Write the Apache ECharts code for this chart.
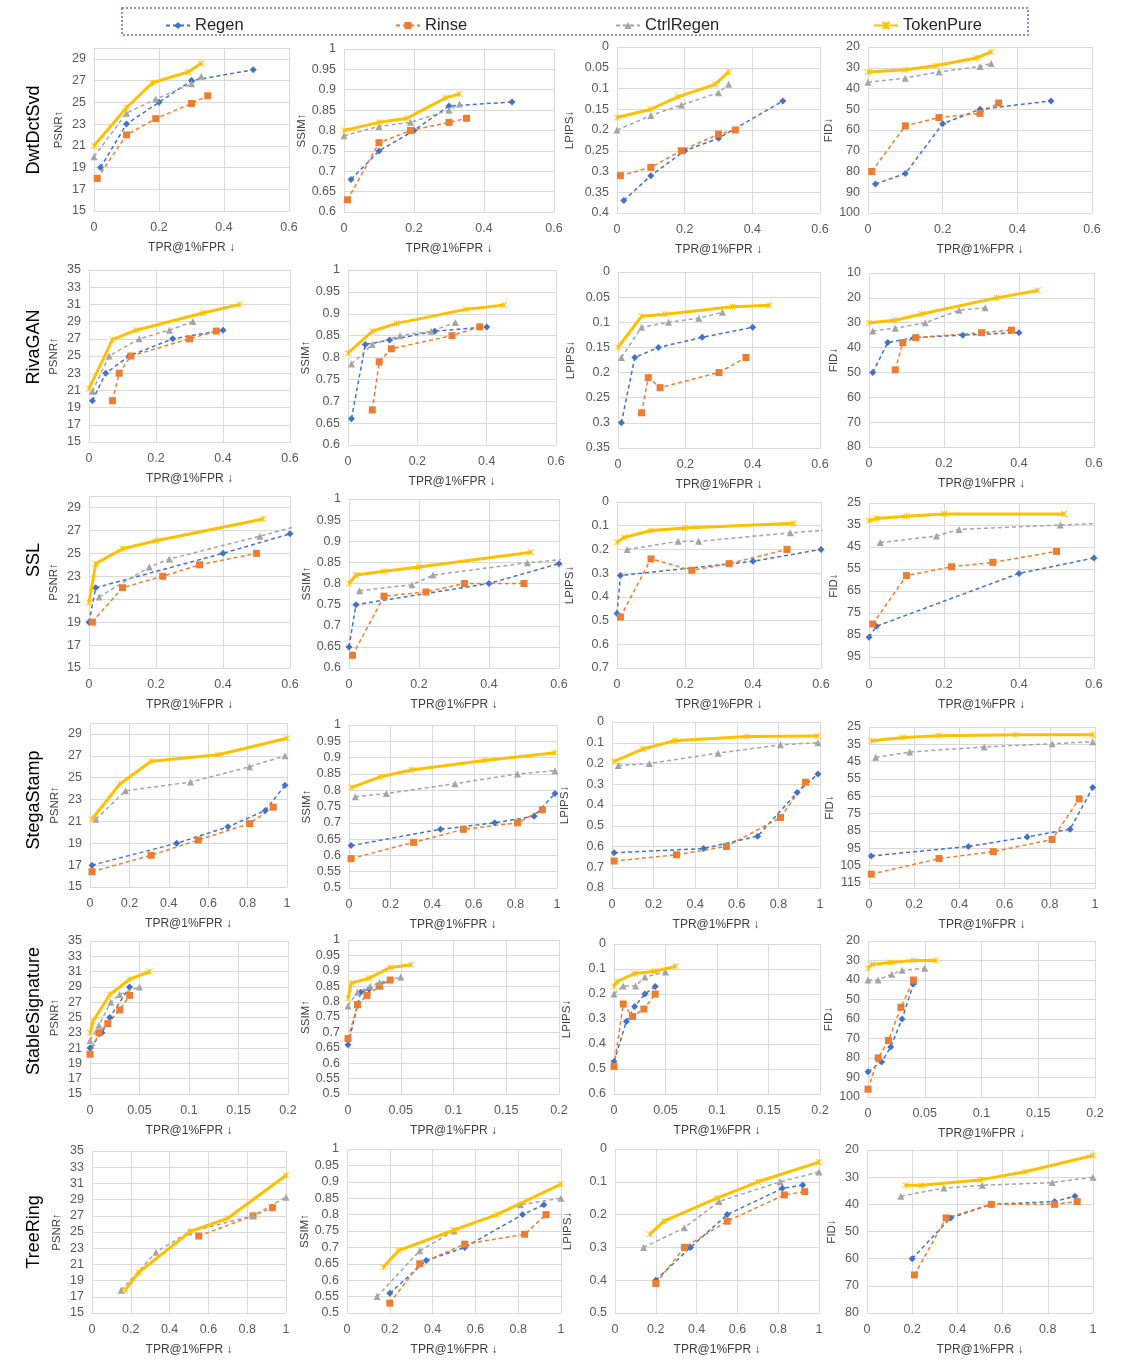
<!DOCTYPE html>
<html><head><meta charset="utf-8">
<script src="https://cdn.jsdelivr.net/npm/echarts@6/dist/echarts.min.js"></script>
<style>html,body{margin:0;padding:0;background:#fff}#c{width:1142px;height:1364px}</style>
</head><body><div id="c"></div>
<script>
const methods = ['Regen','Rinse','CtrlRegen','TokenPure'];
const watermarks = ['DwtDctSvd','RivaGAN','SSL','StegaStamp','StableSignature','TreeRing'];
const metricNames = ['PSNR↑','SSIM↑','LPIPS↓','FID↓'];
const xAxisName = 'TPR@1%FPR ↓';

// ---------- DwtDctSvd ----------
const DwtDctSvd_PSNR = {
  Regen:[[0.02,19],[0.1,23],[0.2,25],[0.3,27],[0.49,28]],
  Rinse:[[0.01,18],[0.1,22],[0.19,23.5],[0.3,24.9],[0.35,25.6]],
  CtrlRegen:[[0,20],[0.1,24],[0.19,25.3],[0.3,26.7],[0.33,27.4]],
  TokenPure:[[0,21],[0.1,24.5],[0.18,26.8],[0.29,27.8],[0.33,28.6]]};
const DwtDctSvd_SSIM = {
  Regen:[[0.02,0.68],[0.1,0.75],[0.2,0.80],[0.3,0.86],[0.48,0.87]],
  Rinse:[[0.01,0.63],[0.1,0.77],[0.19,0.80],[0.3,0.82],[0.35,0.83]],
  CtrlRegen:[[0,0.787],[0.1,0.81],[0.19,0.82],[0.3,0.85],[0.33,0.865]],
  TokenPure:[[0,0.80],[0.1,0.82],[0.18,0.83],[0.29,0.88],[0.33,0.89]]};
const DwtDctSvd_LPIPS = {
  Regen:[[0.02,0.37],[0.1,0.31],[0.2,0.25],[0.3,0.22],[0.49,0.13]],
  Rinse:[[0.01,0.31],[0.1,0.29],[0.19,0.25],[0.3,0.21],[0.35,0.2]],
  CtrlRegen:[[0,0.2],[0.1,0.165],[0.19,0.14],[0.3,0.11],[0.33,0.09]],
  TokenPure:[[0,0.17],[0.1,0.15],[0.18,0.12],[0.29,0.09],[0.33,0.06]]};
const DwtDctSvd_FID = {
  Regen:[[0.02,86],[0.1,81],[0.2,57],[0.3,50],[0.49,46]],
  Rinse:[[0.01,80],[0.1,58],[0.19,54],[0.3,52],[0.35,47]],
  CtrlRegen:[[0,37],[0.1,35],[0.19,32],[0.3,29.4],[0.33,28]],
  TokenPure:[[0,32],[0.1,31],[0.18,29],[0.29,25.3],[0.33,22.3]]};

// ---------- RivaGAN ----------
const RivaGAN_PSNR = {
  Regen:[[0.01,19.8],[0.05,23],[0.12,25],[0.25,27],[0.4,28]],
  Rinse:[[0.07,19.8],[0.09,23],[0.125,25],[0.3,27],[0.38,27.9]],
  CtrlRegen:[[0.01,20.9],[0.06,25],[0.15,27],[0.24,28],[0.31,29]],
  TokenPure:[[0,21.2],[0.07,26.9],[0.14,28],[0.34,30],[0.45,31]]};
const RivaGAN_SSIM = {
  Regen:[[0.01,0.66],[0.05,0.83],[0.12,0.84],[0.25,0.86],[0.4,0.87]],
  Rinse:[[0.07,0.68],[0.09,0.79],[0.125,0.82],[0.3,0.85],[0.38,0.87]],
  CtrlRegen:[[0.01,0.785],[0.07,0.83],[0.15,0.85],[0.24,0.86],[0.31,0.88]],
  TokenPure:[[0,0.81],[0.07,0.86],[0.14,0.878],[0.34,0.91],[0.45,0.92]]};
const RivaGAN_LPIPS = {
  Regen:[[0.01,0.3],[0.05,0.17],[0.12,0.15],[0.25,0.13],[0.4,0.11]],
  Rinse:[[0.07,0.28],[0.09,0.21],[0.125,0.23],[0.3,0.2],[0.38,0.17]],
  CtrlRegen:[[0.01,0.17],[0.07,0.11],[0.15,0.1],[0.24,0.092],[0.31,0.08]],
  TokenPure:[[0,0.15],[0.07,0.088],[0.14,0.084],[0.34,0.069],[0.45,0.066]]};
const RivaGAN_FID = {
  Regen:[[0.01,50],[0.05,38],[0.12,36],[0.25,35],[0.4,34]],
  Rinse:[[0.07,49],[0.09,38],[0.125,36],[0.3,34],[0.38,33]],
  CtrlRegen:[[0.01,33.3],[0.07,32.2],[0.15,30],[0.24,25],[0.31,24]],
  TokenPure:[[0,30],[0.07,29],[0.14,26.5],[0.34,20],[0.45,17]]};

// ---------- SSL ----------
const SSL_PSNR = {
  Regen:[[0,19],[0.02,22],[0.4,25],[0.6,26.7]],
  Rinse:[[0.01,19],[0.1,22],[0.22,23],[0.33,24],[0.5,25]],
  CtrlRegen:[[0.03,21.2],[0.18,23.8],[0.24,24.5],[0.51,26.5],[0.65,27.6]],
  TokenPure:[[0,20.7],[0.02,24.1],[0.1,25.4],[0.2,26.1],[0.52,28]]};
const SSL_SSIM = {
  Regen:[[0,0.65],[0.02,0.75],[0.4,0.8],[0.6,0.847]],
  Rinse:[[0.01,0.63],[0.1,0.77],[0.22,0.78],[0.33,0.8],[0.5,0.8]],
  CtrlRegen:[[0.03,0.783],[0.18,0.797],[0.24,0.82],[0.51,0.849],[0.65,0.86]],
  TokenPure:[[0,0.80],[0.02,0.82],[0.1,0.829],[0.2,0.839],[0.52,0.874]]};
const SSL_LPIPS = {
  Regen:[[0,0.47],[0.01,0.31],[0.4,0.25],[0.6,0.2]],
  Rinse:[[0.01,0.485],[0.1,0.24],[0.22,0.288],[0.33,0.26],[0.5,0.2]],
  CtrlRegen:[[0.03,0.2],[0.18,0.166],[0.24,0.166],[0.51,0.13],[0.65,0.115]],
  TokenPure:[[0,0.17],[0.02,0.15],[0.1,0.12],[0.2,0.11],[0.52,0.09]]};
const SSL_FID = {
  Regen:[[0,86],[0.02,81],[0.4,57],[0.6,50]],
  Rinse:[[0.01,80],[0.1,58],[0.22,54],[0.33,52],[0.5,47]],
  CtrlRegen:[[0.03,43],[0.18,40],[0.24,37],[0.51,35],[0.65,34]],
  TokenPure:[[0,33],[0.02,32],[0.1,31],[0.2,30],[0.52,30]]};

// ---------- StegaStamp ----------
const StegaStamp_PSNR = {
  Regen:[[0.01,17],[0.44,19],[0.7,20.5],[0.89,22],[0.99,24.3]],
  Rinse:[[0.01,16.4],[0.31,17.9],[0.55,19.3],[0.81,20.8],[0.93,22.3]],
  CtrlRegen:[[0.03,21.2],[0.18,23.8],[0.51,24.6],[0.81,26],[0.99,27]],
  TokenPure:[[0.01,21.2],[0.15,24.4],[0.31,26.5],[0.65,27.1],[1.0,28.6]]};
const StegaStamp_SSIM = {
  Regen:[[0.01,0.63],[0.44,0.68],[0.7,0.70],[0.89,0.72],[0.99,0.79]],
  Rinse:[[0.01,0.59],[0.31,0.64],[0.55,0.68],[0.81,0.70],[0.93,0.74]],
  CtrlRegen:[[0.03,0.78],[0.18,0.79],[0.51,0.82],[0.81,0.85],[0.99,0.86]],
  TokenPure:[[0.01,0.808],[0.15,0.841],[0.3,0.862],[0.65,0.891],[0.99,0.915]]};
const StegaStamp_LPIPS = {
  Regen:[[0.01,0.63],[0.44,0.61],[0.7,0.55],[0.89,0.34],[0.99,0.25]],
  Rinse:[[0.01,0.67],[0.31,0.64],[0.55,0.60],[0.81,0.46],[0.93,0.29]],
  CtrlRegen:[[0.03,0.21],[0.18,0.2],[0.51,0.15],[0.81,0.11],[0.99,0.1]],
  TokenPure:[[0.01,0.19],[0.15,0.13],[0.3,0.09],[0.65,0.07],[0.99,0.068]]};
const StegaStamp_FID = {
  Regen:[[0.01,99.5],[0.44,94],[0.7,88.5],[0.89,84],[0.99,60]],
  Rinse:[[0.01,110],[0.31,101],[0.55,97],[0.81,90],[0.93,66.5]],
  CtrlRegen:[[0.03,42.5],[0.18,39.5],[0.51,36.5],[0.81,34.7],[0.99,33.5]],
  TokenPure:[[0.01,33],[0.15,31],[0.31,30],[0.65,29.5],[0.99,29.5]]};

// ---------- StableSignature ----------
const StableSignature_PSNR = {
  Regen:[[0,21],[0.012,23],[0.02,25],[0.04,29]],
  Rinse:[[0,20.2],[0.009,23],[0.018,24.2],[0.03,26],[0.04,27.9]],
  CtrlRegen:[[0,22],[0.009,24],[0.021,27],[0.03,28],[0.05,29]],
  TokenPure:[[0,23],[0.003,24.5],[0.02,28],[0.04,30],[0.06,31]]};
const StableSignature_SSIM = {
  Regen:[[0,0.66],[0.012,0.83],[0.02,0.84],[0.04,0.87]],
  Rinse:[[0,0.68],[0.009,0.79],[0.018,0.82],[0.03,0.85],[0.04,0.87]],
  CtrlRegen:[[0,0.786],[0.009,0.83],[0.021,0.85],[0.03,0.862],[0.05,0.88]],
  TokenPure:[[0,0.81],[0.003,0.86],[0.02,0.876],[0.04,0.911],[0.06,0.92]]};
const StableSignature_LPIPS = {
  Regen:[[0,0.47],[0.012,0.31],[0.02,0.25],[0.03,0.2],[0.04,0.17]],
  Rinse:[[0,0.49],[0.009,0.24],[0.018,0.29],[0.029,0.26],[0.04,0.2]],
  CtrlRegen:[[0,0.2],[0.009,0.168],[0.021,0.168],[0.03,0.132],[0.05,0.112]],
  TokenPure:[[0,0.17],[0.003,0.15],[0.02,0.118],[0.04,0.109],[0.06,0.089]]};
const StableSignature_FID = {
  Regen:[[0,87],[0.012,82],[0.02,74.4],[0.03,60],[0.04,42]],
  Rinse:[[0,96],[0.009,80],[0.018,71],[0.029,54],[0.04,40]],
  CtrlRegen:[[0,40],[0.009,40],[0.021,37],[0.03,35],[0.05,34]],
  TokenPure:[[0,34],[0.003,32],[0.02,31],[0.04,30],[0.06,30]]};

// ---------- TreeRing ----------
const TreeRing_PSNR = {
  Regen:[],
  Rinse:[[0.55,24.5],[0.83,27],[0.93,28]],
  CtrlRegen:[[0.15,17.8],[0.33,22.5],[0.5,25],[0.83,27],[1.0,29.3]],
  TokenPure:[[0.17,17.8],[0.24,20],[0.51,25.1],[0.7,26.7],[1.0,32]]};
const TreeRing_SSIM = {
  Regen:[[0.2,0.56],[0.37,0.66],[0.55,0.70],[0.82,0.80],[0.92,0.83]],
  Rinse:[[0.2,0.53],[0.34,0.65],[0.55,0.71],[0.83,0.74],[0.93,0.80]],
  CtrlRegen:[[0.14,0.55],[0.34,0.69],[0.5,0.75],[0.81,0.83],[1.0,0.85]],
  TokenPure:[[0.17,0.64],[0.24,0.69],[0.5,0.753],[0.7,0.80],[1.0,0.893]]};
const TreeRing_LPIPS = {
  Regen:[[0.2,0.4],[0.37,0.3],[0.55,0.2],[0.82,0.12],[0.92,0.11]],
  Rinse:[[0.2,0.41],[0.34,0.3],[0.55,0.22],[0.83,0.14],[0.93,0.13]],
  CtrlRegen:[[0.14,0.3],[0.34,0.24],[0.51,0.16],[0.81,0.1],[1.0,0.07]],
  TokenPure:[[0.17,0.26],[0.24,0.22],[0.5,0.15],[0.7,0.1],[1.0,0.04]]};
const TreeRing_FID = {
  Regen:[[0.2,60],[0.37,45],[0.55,40],[0.83,39],[0.92,37]],
  Rinse:[[0.21,66],[0.35,45],[0.55,40],[0.83,40],[0.93,39]],
  CtrlRegen:[[0.15,37],[0.34,34],[0.51,33],[0.82,32],[1.0,30]],
  TokenPure:[[0.17,33],[0.24,33],[0.5,31],[0.7,28],[1.0,22]]};

const panelData = [
  [DwtDctSvd_PSNR, DwtDctSvd_SSIM, DwtDctSvd_LPIPS, DwtDctSvd_FID],
  [RivaGAN_PSNR, RivaGAN_SSIM, RivaGAN_LPIPS, RivaGAN_FID],
  [SSL_PSNR, SSL_SSIM, SSL_LPIPS, SSL_FID],
  [StegaStamp_PSNR, StegaStamp_SSIM, StegaStamp_LPIPS, StegaStamp_FID],
  [StableSignature_PSNR, StableSignature_SSIM, StableSignature_LPIPS, StableSignature_FID],
  [TreeRing_PSNR, TreeRing_SSIM, TreeRing_LPIPS, TreeRing_FID]
];

// x-axis scales per row: [max, interval]
const xScales = [[0.6,0.2],[0.6,0.2],[0.6,0.2],[1,0.2],[0.2,0.05],[1,0.2]];
// y-axis scales per row/metric: [min, max, interval, inverse]
const yScales = [
  [[15,30,2,false],[0.6,1,0.05,false],[0,0.4,0.05,true],[20,100,10,true]],
  [[15,35,2,false],[0.6,1,0.05,false],[0,0.35,0.05,true],[10,80,10,true]],
  [[15,30,2,false],[0.6,1,0.05,false],[0,0.7,0.1,true],[25,100,10,true]],
  [[15,30,2,false],[0.5,1,0.05,false],[0,0.8,0.1,true],[25,118,10,true]],
  [[15,35,2,false],[0.5,1,0.05,false],[0,0.6,0.1,true],[20,100,10,true]],
  [[15,35,2,false],[0.5,1,0.05,false],[0,0.5,0.1,true],[20,80,10,true]]
];

// ---------- layout (plot rectangles: left, top, right, bottom) ----------
const rects = [
  [[94,48,289,211],[344,49,554,212],[617,47,820,213],[868,47,1092,213]],
  [[89,270,290,442],[348,270,556,445],[618,272,820,448],[869,273,1094,447]],
  [[89,496,290,668],[349,499,559,668],[617,502,821,668],[869,503,1094,668]],
  [[90,723,287,887],[349,725,557,888],[612,722,820,888],[869,727,1095,888]],
  [[90,941,288,1094],[348,940,559,1094],[614,944,820,1094],[868,941,1095,1097]],
  [[92,1151,286,1313],[347,1149,561,1313],[615,1149,819,1313],[867,1150,1093,1313]]
];
const rowLabelY = [130, 347, 560, 800, 1011, 1232];
const yNameGap = [29, 32, 41, 29];

const styles = {
  Regen:{color:'#4472C4', symbol:'diamond', size:7, dash:[4,3], width:1.5},
  Rinse:{color:'#ED7D31', symbol:'rect', size:7, dash:[4,3], width:1.5},
  CtrlRegen:{color:'#A5A5A5', symbol:'triangle', size:7, dash:[4,3], width:1.5},
  TokenPure:{color:'#FFC000', symbol:'path://M0,0L10,10M10,0L0,10M5,0L5,10', size:6, dash:'solid', width:3}
};

function fmt(v){ return String(+v.toFixed(4)); }

const grids=[], xAxes=[], yAxes=[], series=[], graphics=[];
let gi = 0;
for (let r=0;r<6;r++){
  for (let c=0;c<4;c++){
    const [L,T,R,B] = rects[r][c];
    grids.push({left:L, top:T, width:R-L, height:B-T});
    const [xmax,xint] = xScales[r];
    xAxes.push({gridIndex:gi, type:'value', min:0, max:xmax, interval:xint,
      axisLine:{show:true, onZero:false, lineStyle:{color:'#D9D9D9'}},
      axisTick:{show:false},
      splitLine:{show:true, lineStyle:{color:'#D9D9D9', width:1}},
      axisLabel:{color:'#595959', fontSize:12.5, margin:10, fontFamily:'Liberation Sans', formatter:fmt},
      name:xAxisName, nameLocation:'middle', nameGap:31,
      nameTextStyle:{color:'#404040', fontSize:12, fontFamily:'Liberation Sans'}});
    const [ymin,ymax,yint,inv] = yScales[r][c];
    yAxes.push({gridIndex:gi, type:'value', min:ymin, max:ymax, interval:yint, inverse:inv,
      axisLine:{show:false, onZero:false}, axisTick:{show:false},
      splitLine:{show:true, lineStyle:{color:'#D9D9D9', width:1}},
      axisLabel:{color:'#595959', fontSize:12.5, margin:8, fontFamily:'Liberation Sans',
        formatter:function(v){ const k=(v-ymin)/yint; return Math.abs(k-Math.round(k))<1e-6 ? fmt(v) : ''; }},
      name:metricNames[c], nameLocation:'middle', nameGap:yNameGap[c], nameRotate:90,
      nameTextStyle:{color:'#404040', fontSize:11.5, fontFamily:'Liberation Sans'}});
    const pd = panelData[r][c];
    methods.forEach(m=>{
      const s = styles[m];
      series.push({type:'line', name:m, xAxisIndex:gi, yAxisIndex:gi, data:pd[m],
        symbol:s.symbol, symbolSize:s.size, showSymbol:true, clip:true,
        color:s.color,
        lineStyle:{color:s.color, width:s.width, type:s.dash},
        itemStyle:{color:s.color, borderColor:s.color, borderWidth: m==='TokenPure'?1:0},
        animation:false, z: m==='TokenPure'?4:3});
    });
    gi++;
  }
  graphics.push({type:'text', x:34, y:rowLabelY[r], rotation:Math.PI/2,
    style:{text:watermarks[r], fontSize:18, fontFamily:'Liberation Sans', fill:'#000',
      align:'center', verticalAlign:'middle'}});
}
graphics.push({type:'rect', shape:{x:122,y:8,width:906,height:27},
  style:{fill:'none', stroke:'#8497B0', lineWidth:2, lineDash:[2,2]}});

const legendLefts = [160, 390, 610, 868];
const legends = methods.map((m,i)=>({data:[m], left:legendLefts[i], top:12, itemWidth:24, itemHeight:9,
  itemGap:4, textStyle:{fontSize:16.5, color:'#262626', fontFamily:'Liberation Sans'}, selectedMode:false}));

const chart = echarts.init(document.getElementById('c'), null, {renderer:'canvas'});
chart.setOption({animation:false, backgroundColor:'#fff', grid:grids, xAxis:xAxes, yAxis:yAxes,
  series:series, legend:legends, graphic:graphics});
</script></body></html>
